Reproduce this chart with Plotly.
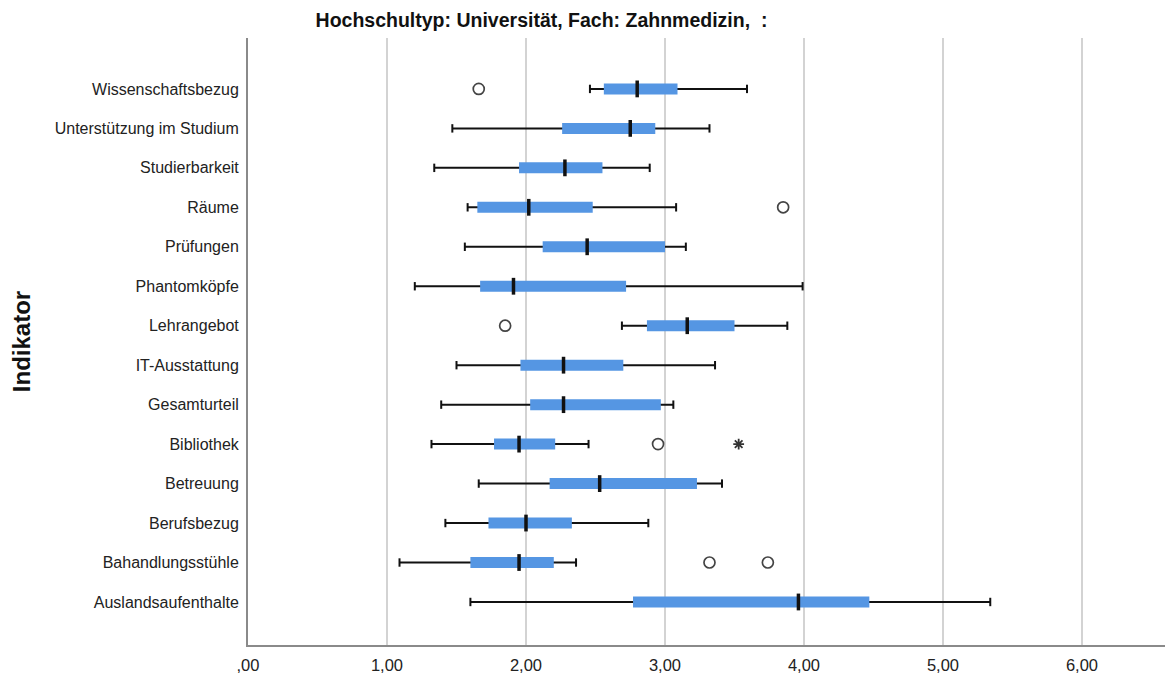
import plotly.graph_objects as go

categories = ["Auslandsaufenthalte", "Bahandlungsstühle", "Berufsbezug", "Betreuung",
              "Bibliothek", "Gesamturteil", "IT-Ausstattung", "Lehrangebot",
              "Phantomköpfe", "Prüfungen", "Räume", "Studierbarkeit",
              "Unterstützung im Studium", "Wissenschaftsbezug"]
lower = [1.60, 1.09, 1.42, 1.66, 1.32, 1.39, 1.50, 2.69, 1.20, 1.56, 1.58, 1.34, 1.47, 2.46]
q1 =    [2.77, 1.60, 1.73, 2.17, 1.77, 2.03, 1.96, 2.87, 1.67, 2.12, 1.65, 1.95, 2.26, 2.56]
median = [3.96, 1.95, 2.00, 2.53, 1.95, 2.27, 2.27, 3.16, 1.91, 2.44, 2.02, 2.28, 2.75, 2.80]
q3 =    [4.47, 2.20, 2.33, 3.23, 2.21, 2.97, 2.70, 3.50, 2.72, 3.00, 2.48, 2.55, 2.93, 3.09]
upper = [5.34, 2.36, 2.88, 3.41, 2.45, 3.06, 3.36, 3.88, 3.99, 3.15, 3.08, 2.89, 3.32, 3.59]

outlier_cat = ["Wissenschaftsbezug", "Räume", "Lehrangebot", "Bibliothek",
               "Bahandlungsstühle", "Bahandlungsstühle"]
outlier_val = [1.66, 3.85, 1.85, 2.95, 3.32, 3.74]
extreme_cat = ["Bibliothek"]
extreme_val = [3.53]

tick_vals = [0, 1, 2, 3, 4, 5, 6]
tick_text = [",00", "1,00", "2,00", "3,00", "4,00", "5,00", "6,00"]

title_text = "Hochschultyp: Universität, Fach: Zahnmedizin,  :"
y_title = "Indikator"

BLUE = "#5596e3"
BLACK = "#111111"
FONT = "Liberation Sans, Arial, sans-serif"

# page body has an 8px margin; figure is sized so the plot sits where the reference has it
W, H = 1165, 674

wx, wy, bx, by = [], [], [], []
for c, lo, a, b, hi in zip(categories, lower, q1, q3, upper):
    wx += [lo, hi, None]
    wy += [c, c, None]
    bx += [a, b, None]
    by += [c, c, None]

fig = go.Figure()
fig.add_trace(go.Scatter(x=wx, y=wy, mode="lines", line=dict(color=BLACK, width=2),
                         hoverinfo="skip", showlegend=False))
fig.add_trace(go.Scatter(x=lower + upper, y=categories + categories, mode="markers",
                         marker=dict(symbol="line-ns", size=6, line=dict(color=BLACK, width=2)),
                         hoverinfo="skip", showlegend=False))
fig.add_trace(go.Scatter(x=bx, y=by, mode="lines", line=dict(color=BLUE, width=11),
                         hoverinfo="skip", showlegend=False))
fig.add_trace(go.Scatter(x=median, y=categories, mode="markers",
                         marker=dict(symbol="line-ns", size=12, line=dict(color=BLACK, width=3.5)),
                         showlegend=False))
fig.add_trace(go.Scatter(x=outlier_val, y=outlier_cat, mode="markers",
                         marker=dict(symbol="circle-open", size=11, color="#444444",
                                     line=dict(color="#444444", width=1.7)),
                         showlegend=False))
fig.add_trace(go.Scatter(x=extreme_val, y=extreme_cat, mode="markers",
                         marker=dict(symbol="asterisk-open", size=9, color="#333333",
                                     line=dict(color="#333333", width=1.8)),
                         showlegend=False))

fig.update_layout(
    width=W, height=H,
    margin=dict(l=240, r=0, t=30, b=37),
    paper_bgcolor="white", plot_bgcolor="white",
    font=dict(family=FONT, size=16, color="#222222"),
    title=dict(text=title_text, x=(541.5 - 8) / W, xref="container", xanchor="center",
               y=1 - (20 - 8) / H, yref="container", yanchor="middle",
               font=dict(size=19.5, color="#111111", family=FONT, weight="bold")),
    xaxis=dict(range=[0, 925 / 139], tickvals=tick_vals, ticktext=tick_text,
               showgrid=True, gridcolor="#d3d3d3", gridwidth=2, zeroline=False,
               showline=True, linecolor="#8a8a8a", linewidth=2, ticks="",
               ticklabelstandoff=4, tickfont=dict(size=16.5, color="#222222")),
    yaxis=dict(type="category", categoryorder="array", categoryarray=categories,
               range=[-1.09, 14.29], showgrid=False, zeroline=False,
               showline=True, linecolor="#8a8a8a", linewidth=2, ticks="",
               ticklabelstandoff=4, tickfont=dict(size=16, color="#222222"),
               title=dict(text=y_title, standoff=18,
                          font=dict(size=24, color="#111111", weight="bold"))),
)

fig.write_html("out.html")
